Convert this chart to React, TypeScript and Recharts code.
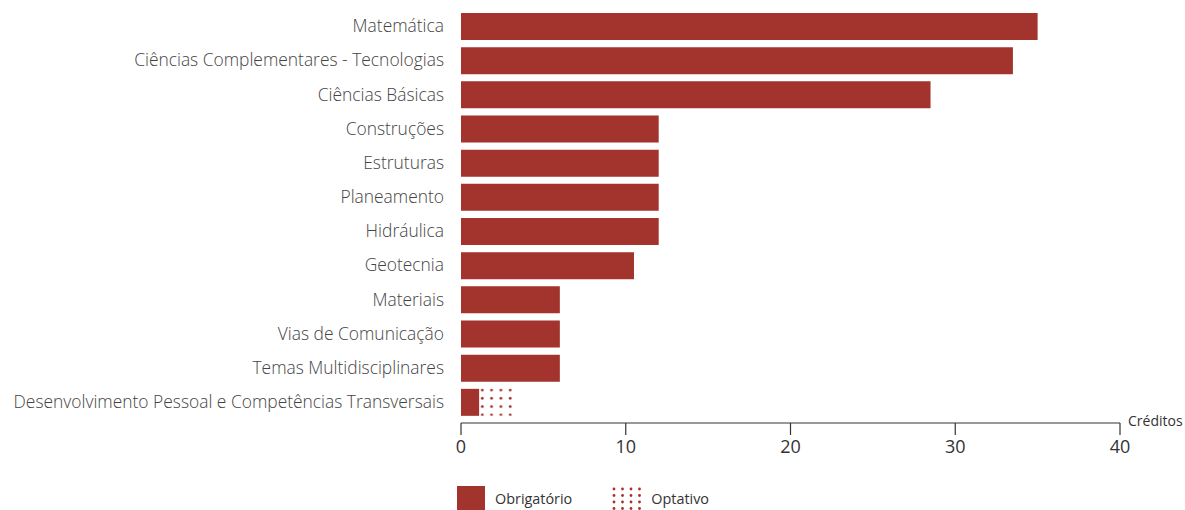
import React from 'react';
import { BarChart, Bar, XAxis, YAxis, Legend } from 'recharts';

const categories = [
  'Matemática',
  'Ciências Complementares - Tecnologias',
  'Ciências Básicas',
  'Construções',
  'Estruturas',
  'Planeamento',
  'Hidráulica',
  'Geotecnia',
  'Materiais',
  'Vias de Comunicação',
  'Temas Multidisciplinares',
  'Desenvolvimento Pessoal e Competências Transversais',
];
const obrigatorio = [35, 33.5, 28.5, 12, 12, 12, 12, 10.5, 6, 6, 6, 1.1];
const optativo = [0, 0, 0, 0, 0, 0, 0, 0, 0, 0, 0, 2];
const xTicks = [0, 10, 20, 30, 40];

const RED = '#A2332D';
const data = categories.map((name, i) => ({ name, obrigatorio: obrigatorio[i], optativo: optativo[i] }));

const FONT = '"Open Sans", "Noto Sans", sans-serif';

const renderLegend = () => (
  <div style={{ height: 40, paddingTop: 16, boxSizing: 'border-box', display: 'flex', alignItems: 'center', fontFamily: FONT, fontSize: 14.4, color: '#333' }}>
    <svg width={28} height={24} style={{ display: 'block' }}>
      <rect x={0} y={0} width={28} height={24} fill={RED} />
    </svg>
    <span style={{ marginLeft: 10 }}>Obrigatório</span>
    <svg width={30} height={24} style={{ display: 'block', marginLeft: 40 }}>
      {[0, 1, 2, 3].map((c) =>
        [0, 1, 2, 3].map((r) => (
          <circle key={`${c}-${r}`} cx={2 + c * 8.5} cy={3 + r * 6.5} r={1.4} fill={RED} />
        ))
      )}
    </svg>
    <span style={{ marginLeft: 9 }}>Optativo</span>
  </div>
);

const CreditosLabel = (props: any) => {
  const vb = props.viewBox || {};
  return (
    <text x={vb.x + vb.width + 8} y={vb.y - 1} fontSize={14} fill="#333" fontFamily={FONT} dominantBaseline="middle">
      Créditos
    </text>
  );
};

export default function App() {
  return (
    <div style={{ width: 1185, height: 510 }}>
      <style>{'html,body{margin:0;padding:0;overflow:hidden}'}</style>
      <BarChart
        width={1185}
        height={510}
        data={data}
        layout="vertical"
        margin={{ top: 9, right: 65, bottom: 0, left: 0 }}
        barCategoryGap={7}
      >
        <defs>
          <pattern id="dots" patternUnits="userSpaceOnUse" x={478.3} y={386} width={9.3} height={8.3}>
            <circle cx={4} cy={4} r={1.4} fill={RED} />
          </pattern>
        </defs>
        <XAxis
          type="number"
          domain={[0, 40]}
          ticks={xTicks}
          height={47}
          tickSize={12}
          tickMargin={5}
          axisLine={{ stroke: '#333', strokeWidth: 1.2 }}
          tickLine={{ stroke: '#333', strokeWidth: 1.2 }}
          tick={{ fontSize: 18, fill: '#333', fontFamily: FONT }}
          label={<CreditosLabel />}
        />
        <YAxis
          type="category"
          dataKey="name"
          width={461}
          axisLine={false}
          tickLine={false}
          tickSize={0}
          tickMargin={17}
          interval={0}
          padding={{ top: 0, bottom: 4 }}
          tick={{ fontSize: 17.4, fill: '#444', fontFamily: FONT, fontWeight: 300 }}
        />
        <Legend verticalAlign="bottom" align="left" wrapperStyle={{ left: 457 }} content={renderLegend} />
        <Bar dataKey="obrigatorio" stackId="a" fill={RED} barSize={27} isAnimationActive={false} />
        <Bar dataKey="optativo" stackId="a" fill="url(#dots)" barSize={27} isAnimationActive={false} />
      </BarChart>
    </div>
  );
}
